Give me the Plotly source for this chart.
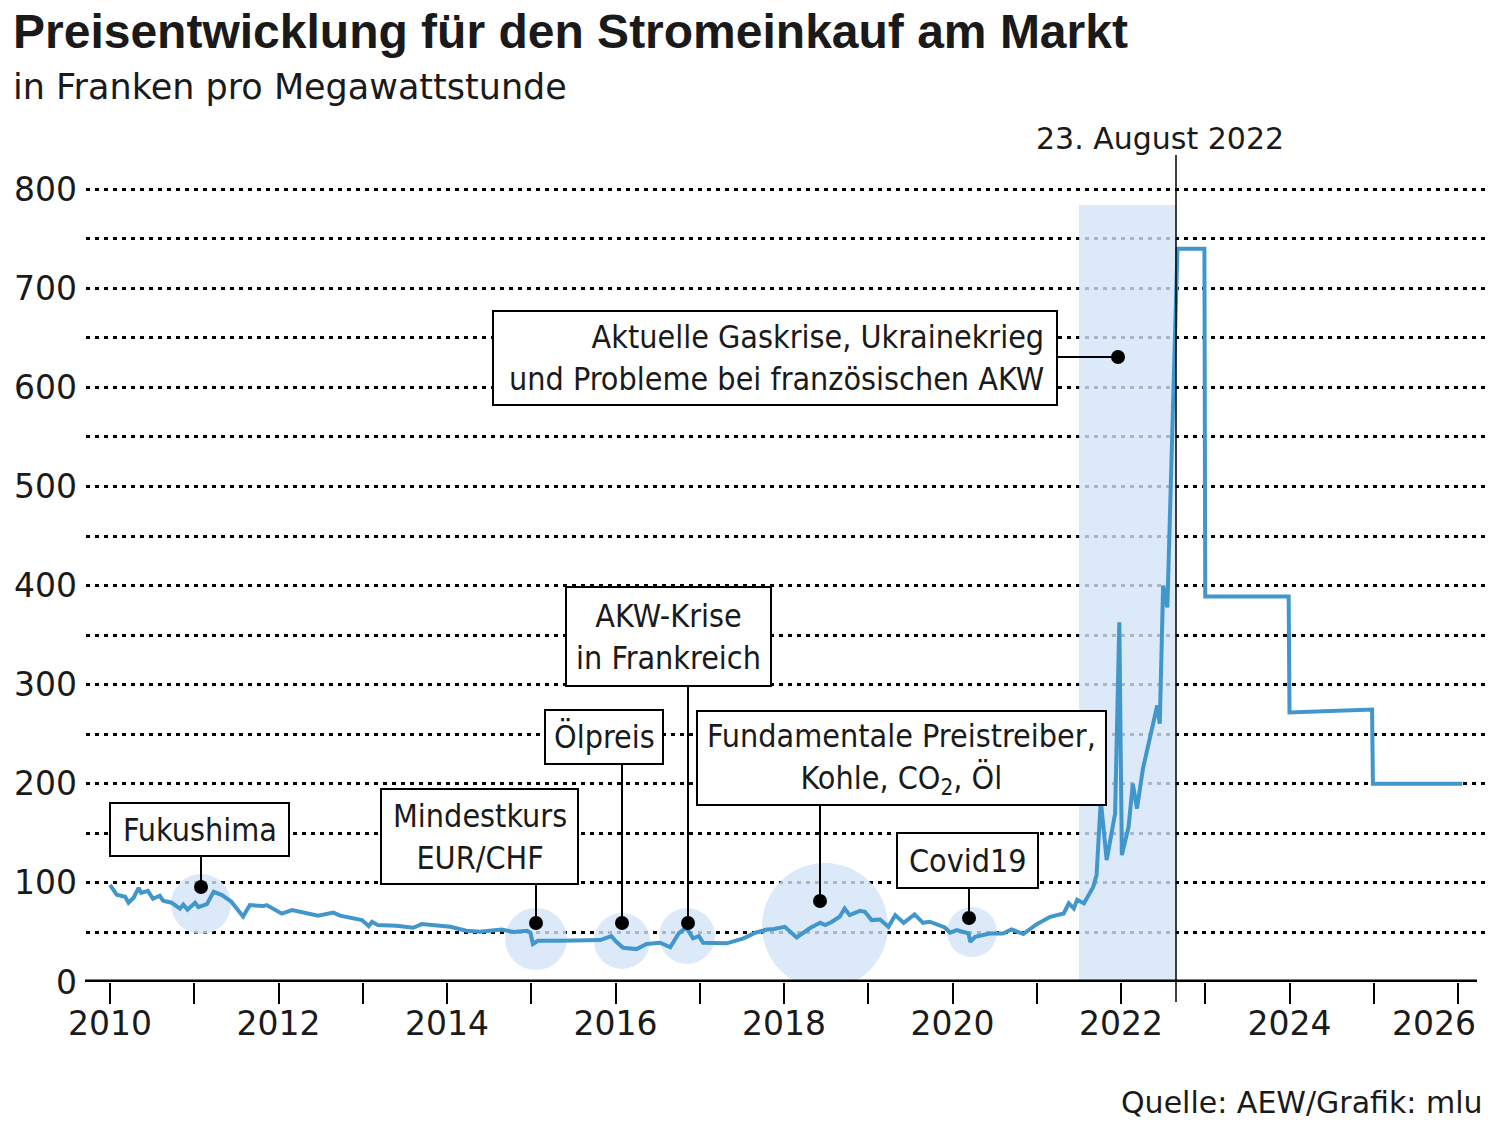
import plotly.graph_objects as go

# ---------------- data ----------------
years = [2010.00, 2010.08, 2010.18, 2010.22, 2010.28, 2010.34, 2010.37, 2010.45, 2010.51, 2010.59,
         2010.63, 2010.73, 2010.83, 2010.87, 2010.92, 2011.01, 2011.05, 2011.15, 2011.23, 2011.33,
         2011.44, 2011.58, 2011.66, 2011.82, 2011.86, 2012.04, 2012.16, 2012.47, 2012.65, 2012.73,
         2012.99, 2013.07, 2013.11, 2013.18, 2013.40, 2013.60, 2013.70, 2014.04, 2014.23, 2014.39,
         2014.65, 2014.79, 2014.95, 2014.99, 2015.02, 2015.08, 2015.34, 2015.82, 2015.95, 2016.01,
         2016.09, 2016.25, 2016.37, 2016.53, 2016.65, 2016.75, 2016.84, 2016.92, 2016.99, 2017.04,
         2017.32, 2017.52, 2017.66, 2017.80, 2017.88, 2018.01, 2018.15, 2018.31, 2018.43, 2018.49,
         2018.57, 2018.66, 2018.72, 2018.78, 2018.90, 2018.96, 2019.04, 2019.14, 2019.24, 2019.32,
         2019.42, 2019.55, 2019.65, 2019.73, 2019.91, 2019.97, 2020.05, 2020.19, 2020.21, 2020.27,
         2020.44, 2020.60, 2020.70, 2020.84, 2021.00, 2021.16, 2021.32, 2021.38, 2021.44, 2021.48,
         2021.56, 2021.67, 2021.71, 2021.76, 2021.83, 2021.93, 2021.98, 2022.01, 2022.09, 2022.14,
         2022.19, 2022.26, 2022.43, 2022.46, 2022.50, 2022.55, 2022.67, 2022.99, 2023.00, 2023.99,
         2024.00, 2024.98, 2024.99, 2026.05]
prices = [98, 88, 86, 80, 85, 95, 90, 92, 84, 87,
          82, 80, 74, 78, 73, 80, 75.5, 78.5, 91, 87.7,
          81, 66, 77.6, 76.6, 77.6, 69, 72.5, 67, 70, 67,
          62.5, 56.4, 60.8, 57.4, 56.7, 54.7, 58.4, 55.7, 51.7, 50.7,
          53, 50.4, 51.7, 49.7, 38.3, 41.6, 41.6, 42.3, 46.3, 40.6,
          34.6, 33.2, 38.3, 39.6, 35, 49, 55, 44, 46.3, 39.6,
          39, 44, 49.7, 53, 53.5, 55.7, 45, 54.5, 59.7, 57.4,
          60.8, 65.8, 74.2, 67.5, 71.8, 70.8, 62.5, 63.1, 55.7, 67.5,
          59.7, 68.2, 59.7, 60.8, 55, 49.7, 52.4, 49, 40.6, 45.6,
          49, 49, 53, 48.4, 58.4, 65.8, 69.2, 79.3, 74.2, 83,
          79.3, 96, 108, 183, 123, 170, 363, 128, 156.5, 200,
          175, 215, 279, 260.6, 400, 378, 740, 740, 389, 389,
          272, 275, 200, 200]

x_tickvals = list(range(2010, 2025, 2))          # labelled years
x_ticktext = [str(y) for y in x_tickvals]
x_minorvals = [2011, 2013, 2015, 2017, 2019, 2021, 2023, 2025, 2026]
last_year_label = "2026"
y_tickvals = list(range(0, 801, 100))
y_ticktext = [str(v) for v in y_tickvals]
y_minorvals = list(range(50, 800, 100))

event_labels = ["Fukushima", "Mindestkurs<br>EUR/CHF", "Ölpreis", "AKW-Krise<br>in Frankreich",
                "Fundamentale Preistreiber,<br>Kohle, CO<sub>2</sub>, Öl", "Covid19"]
crisis_label = "Aktuelle Gaskrise, Ukrainekrieg<br>und Probleme bei französischen AKW"
date_label = "23. August 2022"

# ---------------- pixel helpers (layout only) ----------------
W, H = 1491, 1121
PL, PR, PT, PB = 86, 1485, 150, 982
X0PX, XPERYEAR = 110, 84.25
YPERUNIT = 0.991


def xd(px):
    return 2010 + (px - X0PX) / XPERYEAR


def yd(py):
    return (PB - py) / YPERUNIT


def xp(px):
    return (px - PL) / (PR - PL)


def yp(py):
    return (PB - py) / (PB - PT)


LINE_BLUE = "#4196cb"
BUBBLE = "#d3e3f6"
TXT = "#1a1a1a"
BOXFONT = "DejaVu Sans Condensed, Liberation Sans Narrow, Arial Narrow, sans-serif"
AXFONT = "DejaVu Sans, Liberation Sans, Arial, sans-serif"
TITLEFONT = "Liberation Sans, Arial, sans-serif"
GRID = dict(gridcolor="black", gridwidth=3, griddash="4px,5px")

fig = go.Figure()
fig.add_trace(go.Scatter(x=years, y=prices, mode="lines",
                         line=dict(color=LINE_BLUE, width=4), hoverinfo="skip", showlegend=False))

shapes = []
# highlighted band
shapes.append(dict(type="rect", xref="x", yref="y", x0=xd(1079), x1=xd(1176), y0=0, y1=yd(205),
                   fillcolor=BUBBLE, opacity=0.8, line=dict(width=0), layer="between"))
# bubbles (cx, cy, r in px)
bubbles = [(201, 904, 30), (536, 939, 31), (622, 941, 28), (687, 936, 28), (825, 926, 63), (972, 932, 25)]
for cx, cy, r in bubbles:
    shapes.append(dict(type="circle", xref="x", yref="y", xsizemode="pixel", ysizemode="pixel",
                       xanchor=xd(cx), yanchor=yd(cy), x0=-r, x1=r, y0=-r, y1=r,
                       fillcolor=BUBBLE, opacity=0.8, line=dict(width=0), layer="between"))

# baseline
shapes.append(dict(type="line", xref="paper", yref="y", x0=xp(85), x1=xp(1477), y0=0, y1=0,
                   line=dict(color="black", width=5), layer="above"))
# 23 August 2022 line
shapes.append(dict(type="line", xref="x", yref="paper", x0=xd(1176), x1=xd(1176),
                   y0=yp(1002), y1=yp(155), line=dict(color="black", width=1.5), layer="above"))

# boxes (x0, x1, y0, y1 px), leader x px, dot y px
boxes = [(110, 289, 803, 856), (381, 578, 789, 884), (545, 663, 710, 764),
         (566, 771, 587, 686), (697, 1106, 711, 805), (897, 1038, 833, 888)]
leaders = [(201, 887), (536, 923), (622, 923), (688, 923), (820, 901), (969, 918)]
for (bx0, bx1, by0, by1), (lx, dy) in zip(boxes, leaders):
    shapes.append(dict(type="line", xref="x", yref="y", x0=xd(lx), x1=xd(lx), y0=yd(by1), y1=yd(dy),
                       line=dict(color="black", width=2), layer="above"))
    shapes.append(dict(type="rect", xref="x", yref="y", x0=xd(bx0), x1=xd(bx1), y0=yd(by1), y1=yd(by0),
                       fillcolor="white", line=dict(color="black", width=2), layer="above"))
    shapes.append(dict(type="circle", xref="x", yref="y", xsizemode="pixel", ysizemode="pixel",
                       xanchor=xd(lx), yanchor=yd(dy), x0=-7, x1=7, y0=-7, y1=7,
                       fillcolor="black", line=dict(width=0), layer="above"))

# crisis box with horizontal leader
shapes.append(dict(type="line", xref="x", yref="y", x0=xd(1057), x1=xd(1118), y0=yd(357), y1=yd(357),
                   line=dict(color="black", width=2), layer="above"))
shapes.append(dict(type="rect", xref="x", yref="y", x0=xd(493), x1=xd(1057), y0=yd(405), y1=yd(311),
                   fillcolor="white", line=dict(color="black", width=2), layer="above"))
shapes.append(dict(type="circle", xref="x", yref="y", xsizemode="pixel", ysizemode="pixel",
                   xanchor=xd(1118), yanchor=yd(357), x0=-7, x1=7, y0=-7, y1=7,
                   fillcolor="black", line=dict(width=0), layer="above"))

annotations = []
for label, (bx0, bx1, by0, by1) in zip(event_labels, boxes):
    annotations.append(dict(x=xd((bx0 + bx1) / 2), y=yd((by0 + by1) / 2), xref="x", yref="y",
                            xanchor="center", yanchor="middle",
                            text=label, showarrow=False, align="center",
                            font=dict(family=BOXFONT, size=32, color=TXT)))
annotations.append(dict(x=xd(1046), y=yd(358), xref="x", yref="y", xanchor="right", yanchor="middle",
                        text=crisis_label, showarrow=False, align="right",
                        font=dict(family=BOXFONT, size=32, color=TXT)))
annotations.append(dict(x=xd(1160), y=yp(138), xref="x", yref="paper", xanchor="center", yanchor="middle",
                        text=date_label, showarrow=False, font=dict(family=AXFONT, size=30, color=TXT)))
# last x tick label shifted to fit inside the figure
annotations.append(dict(x=xp(1434), y=yp(1023), xref="paper", yref="paper", xanchor="center", yanchor="middle",
                        text=last_year_label, showarrow=False, font=dict(family=AXFONT, size=33, color=TXT)))
# title, subtitle, source
annotations.append(dict(x=xp(11), y=yp(32), xref="paper", yref="paper", xanchor="left", yanchor="middle",
                        text="<b>Preisentwicklung für den Stromeinkauf am Markt</b>", showarrow=False,
                        font=dict(family=TITLEFONT, size=48, color=TXT)))
annotations.append(dict(x=xp(11), y=yp(87), xref="paper", yref="paper", xanchor="left", yanchor="middle",
                        text="in Franken pro Megawattstunde", showarrow=False,
                        font=dict(family=AXFONT, size=35, color=TXT)))
annotations.append(dict(x=xp(1484), y=yp(1102), xref="paper", yref="paper", xanchor="right", yanchor="middle",
                        text="Quelle: AEW/Grafik: mlu", showarrow=False, borderpad=0,
                        font=dict(family=AXFONT, size=30, color=TXT)))

fig.update_layout(
    width=W, height=H, margin=dict(l=PL, r=W - PR, t=PT, b=H - PB, pad=0),
    paper_bgcolor="white", plot_bgcolor="white",
    shapes=shapes, annotations=annotations, showlegend=False,
    xaxis=dict(range=[xd(PL), xd(PR)], tickmode="array", tickvals=x_tickvals, ticktext=x_ticktext,
               ticks="outside", ticklen=21, tickwidth=2, tickcolor="black", showgrid=False,
               zeroline=False, showline=False, ticklabelstandoff=-9,
               minor=dict(tickmode="array", tickvals=x_minorvals, ticks="outside", ticklen=21,
                          tickwidth=2, tickcolor="black", showgrid=False),
               tickfont=dict(family=AXFONT, size=33, color=TXT)),
    yaxis=dict(range=[0, yd(PT)], tickmode="array", tickvals=y_tickvals, ticktext=y_ticktext,
               ticks="", showgrid=True, zeroline=False, showline=False, ticklabelstandoff=8,
               minor=dict(tickmode="array", tickvals=y_minorvals, ticks="", showgrid=True, **GRID),
               tickfont=dict(family=AXFONT, size=33, color=TXT), **GRID),
)

fig.write_html("out.html")
